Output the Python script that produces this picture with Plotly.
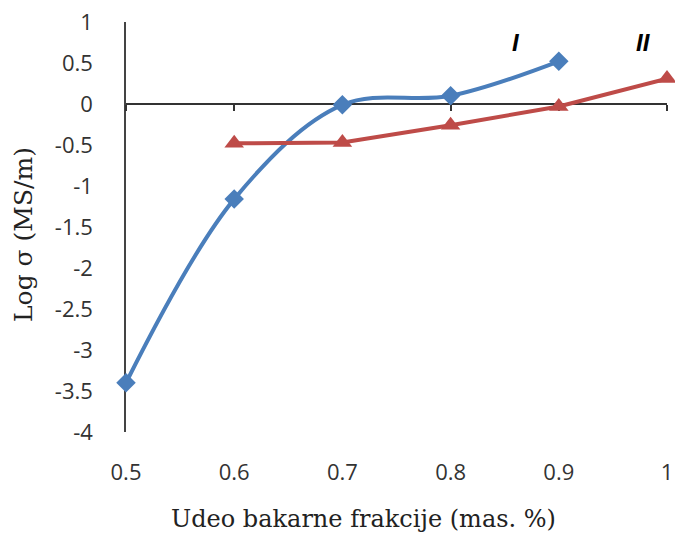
import plotly.graph_objects as go

x_I = [0.5, 0.6, 0.7, 0.8, 0.9]
y_I = [-3.4, -1.16, -0.01, 0.1, 0.52]
x_II = [0.6, 0.7, 0.8, 0.9, 1.0]
y_II = [-0.48, -0.47, -0.26, -0.03, 0.31]
x_ticks = [0.5, 0.6, 0.7, 0.8, 0.9, 1.0]
x_tick_labels = ["0.5", "0.6", "0.7", "0.8", "0.9", "1"]
y_ticks = [1, 0.5, 0, -0.5, -1, -1.5, -2, -2.5, -3, -3.5, -4]
y_tick_labels = ["1", "0.5", "0", "-0.5", "-1", "-1.5", "-2", "-2.5", "-3", "-3.5", "-4"]

BLUE = "#4A7EBB"
RED = "#BE4B48"

fig = go.Figure()
# invisible trace for secondary x axis (axis line at y=0)
fig.add_trace(go.Scatter(x=[x_ticks[0]], y=[0], xaxis="x2", mode="markers",
                         marker=dict(opacity=0), showlegend=False, hoverinfo="skip"))
fig.add_trace(go.Scatter(x=x_I, y=y_I, mode="lines+markers", cliponaxis=False,
                         line=dict(color=BLUE, width=4, shape="spline", smoothing=1.0),
                         marker=dict(symbol="diamond", size=15, color=BLUE),
                         showlegend=False))
fig.add_trace(go.Scatter(x=x_II, y=y_II, mode="lines+markers", cliponaxis=False,
                         line=dict(color=RED, width=4),
                         marker=dict(symbol="triangle-up", size=17, color=RED),
                         showlegend=False))

fig.add_annotation(x=0.86, y=0.75, text="<b><i>I</i></b>", showarrow=False,
                   font=dict(family="Liberation Sans", size=24, color="black"))
fig.add_annotation(x=0.978, y=0.75, text="<b><i>II</i></b>", showarrow=False,
                   font=dict(family="Liberation Sans", size=24, color="black"))

# axis titles
fig.add_annotation(x=0.5, y=0, xref="paper", yref="paper", xanchor="center",
                   yanchor="middle", yshift=-87, xshift=-33, showarrow=False,
                   text="Udeo bakarne frakcije (mas. %)",
                   font=dict(family="DejaVu Serif", size=24, color="#222222"))
fig.add_annotation(x=0, y=0.5, xref="paper", yref="paper", xanchor="center",
                   yanchor="middle", xshift=-103, yshift=-8, textangle=-90,
                   showarrow=False, text="Log σ (MS/m)",
                   font=dict(family="DejaVu Serif", size=25, color="#222222"))

tick_font = dict(family="Open Sans", size=22, color="#333333")

fig.update_layout(
    width=675, height=536,
    margin=dict(l=126, r=8, t=22, b=104),
    paper_bgcolor="white", plot_bgcolor="white",
    xaxis=dict(range=[0.5, 1.0], tickvals=x_ticks, ticktext=x_tick_labels,
               showgrid=False, zeroline=False, showline=False, ticks="",
               tickfont=tick_font, ticklabelstandoff=25, automargin=False),
    xaxis2=dict(range=[0.5, 1.0], tickvals=x_ticks, overlaying="x", anchor="free",
                position=0.8, side="bottom", showgrid=False, zeroline=False,
                showline=True, linecolor="#333333", linewidth=1.5,
                ticks="outside", ticklen=6, tickcolor="#333333", tickwidth=1.5,
                showticklabels=False, automargin=False, layer="below traces"),
    yaxis=dict(range=[-4, 1], tickvals=y_ticks, ticktext=y_tick_labels,
               showgrid=False, zeroline=False, showline=True,
               linecolor="#444444", linewidth=1.5, ticks="",
               tickfont=tick_font, ticklabelstandoff=27, automargin=False,
               layer="below traces"),
)

fig.write_html("out.html", config={"displayModeBar": False},
               post_script="document.body.style.margin='0';document.body.style.overflow='hidden';")
